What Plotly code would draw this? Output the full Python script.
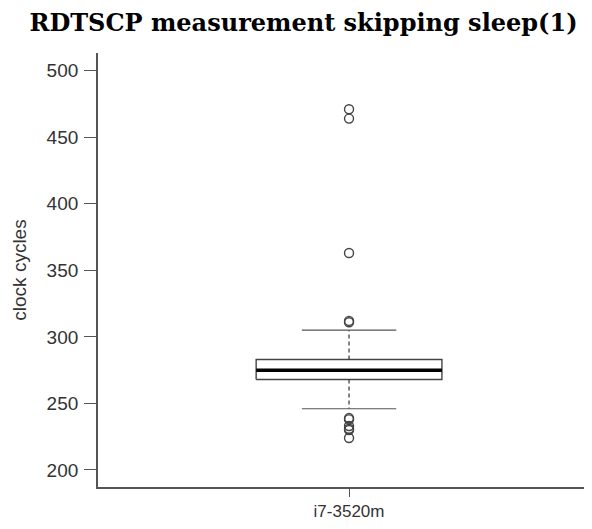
import plotly.graph_objects as go

# ---- data ----
category = ["i7-3520m"]
q1 = [268]
median = [275]
q3 = [283]
lower_whisker = [246]
upper_whisker = [305]
outliers = [471, 464, 363, 312, 311, 239, 238, 233, 231, 230, 224]
y_ticks = [200, 250, 300, 350, 400, 450, 500]

xc = 1.0
box_half = 0.185
cap_half = 0.094
line_col = "#555555"

fig = go.Figure()

# box rectangle
fig.add_trace(go.Scatter(
    x=[xc - box_half, xc + box_half, xc + box_half, xc - box_half, xc - box_half],
    y=[q1[0], q1[0], q3[0], q3[0], q1[0]],
    mode="lines", line=dict(color="#444444", width=1.4), hoverinfo="skip"))
# median
fig.add_trace(go.Scatter(
    x=[xc - box_half, xc + box_half], y=[median[0], median[0]],
    mode="lines", line=dict(color="black", width=3.5), hoverinfo="skip"))
# dashed whiskers
fig.add_trace(go.Scatter(
    x=[xc, xc, None, xc, xc],
    y=[q3[0], upper_whisker[0], None, q1[0], lower_whisker[0]],
    mode="lines", line=dict(color="#333333", width=1.2, dash="4px,3px"), hoverinfo="skip"))
# caps
fig.add_trace(go.Scatter(
    x=[xc - cap_half, xc + cap_half, None, xc - cap_half, xc + cap_half],
    y=[upper_whisker[0], upper_whisker[0], None, lower_whisker[0], lower_whisker[0]],
    mode="lines", line=dict(color=line_col, width=1.2), hoverinfo="skip"))
# outliers
fig.add_trace(go.Scatter(
    x=[xc] * len(outliers), y=outliers, mode="markers",
    marker=dict(symbol="circle-open", size=9, color="#444444", line=dict(width=1.4))))

W, H = 576, 513  # page body adds an 8px margin on every side
fig.update_layout(
    width=W, height=H,
    margin=dict(l=90, r=0, t=45, b=34, autoexpand=False),
    plot_bgcolor="white", paper_bgcolor="white",
    showlegend=False,
    title=dict(text="<b>RDTSCP measurement skipping sleep(1)</b>",
               font=dict(family="DejaVu Serif", size=24, color="black"),
               x=295.5 / W, xanchor="center", y=1 - 15 / H, yanchor="middle", yref="container"),
    font=dict(family="Liberation Sans", color="#333333"),
)
fig.update_xaxes(
    range=[0.5, 1.468], tickvals=[xc], ticktext=category,
    ticks="outside", ticklen=8, tickcolor=line_col, tickwidth=1.3,
    showline=True, linecolor=line_col, linewidth=1.8, automargin=False,
    showgrid=False, zeroline=False, tickfont=dict(size=17), ticklabelstandoff=0)
fig.update_yaxes(
    range=[187.2, 513.3], tickvals=y_ticks, ticktext=[str(v) for v in y_ticks],
    ticks="outside", ticklen=12, tickcolor=line_col, tickwidth=1.3,
    showline=True, linecolor=line_col, linewidth=1.8, automargin=False,
    showgrid=False, zeroline=False, tickfont=dict(size=19), ticklabelstandoff=2,
    title=dict(text="clock cycles", font=dict(size=19), standoff=15))

fig.write_html("out.html")
